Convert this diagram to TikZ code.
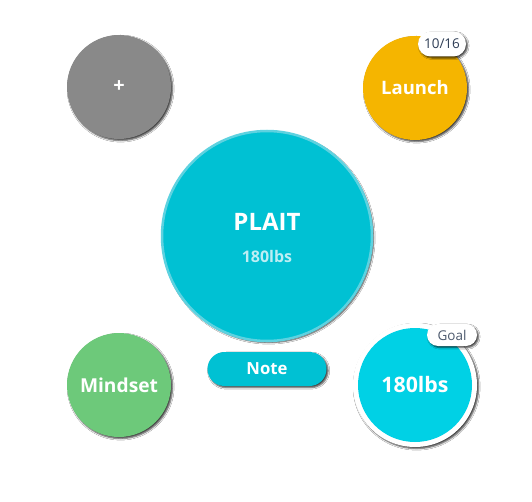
\documentclass[tikz,border=0pt]{standalone}
\usepackage{fontspec}
\setmainfont{Open Sans}
\usetikzlibrary{shadows.blur,shapes.misc}
\definecolor{grayc}{HTML}{898989}
\definecolor{launchc}{HTML}{F5B500}
\definecolor{mainc}{HTML}{00C1D3}
\definecolor{mainring}{HTML}{5ED2E0}
\definecolor{mindc}{HTML}{6DC97A}
\definecolor{goalc}{HTML}{00D1E5}
\definecolor{badgetxt}{HTML}{2E3D55}
\definecolor{subtxt}{HTML}{BDEEF4}
\tikzset{
  x=1pt,y=1pt,
  shad/.style={blur shadow={shadow xshift=1.6pt,shadow yshift=-1.6pt,shadow blur radius=1.6pt,shadow opacity=75}},
  plainbubble/.style={circle,inner sep=0pt,text=white,font=\bfseries\fontsize{18.5}{20}\selectfont},
  bubble/.style={plainbubble,shad},
  badge/.style={rounded rectangle,fill=white,shad,inner sep=0pt,text=badgetxt,font=\fontsize{13.5}{15}\selectfont},
}
\begin{document}
\begin{tikzpicture}
\useasboundingbox[fill=white] (0,0) rectangle (532,501);
% gray plus
\node[bubble,fill=grayc,minimum size=104pt,font=\bfseries\fontsize{20}{22}\selectfont] (plus) at (119,414) {+};
% launch
\node[bubble,fill=launchc,minimum size=104pt] (launch) at (415,413) {Launch};
\node[badge,minimum width=48pt,minimum height=25pt] (b1) at (442,457) {10/16};
% central
\node[circle,inner sep=0pt,fill=mainc,draw=mainring,line width=2.5pt,minimum size=210pt,shad] (main) at (267,265) {};
\node[text=white,font=\bfseries\fontsize{24}{26}\selectfont] (plait) at (267,279) {PLAIT};
\node[text=subtxt,font=\bfseries\fontsize{16}{18}\selectfont] (sub) at (267,245) {180lbs};
% mindset
\node[bubble,fill=mindc,minimum size=104pt,font=\bfseries\fontsize{19.2}{21}\selectfont] (mind) at (119,116) {Mindset};
% note
\node[rounded rectangle,fill=mainc,shad,minimum width=119pt,minimum height=34pt,inner sep=0pt,text=white,font=\bfseries\fontsize{16.7}{18}\selectfont] (note) at (267,132) {Note};
% goal
\node[circle,fill=white,minimum size=124pt,inner sep=0pt,shad] (goalring) at (415,116) {};
\node[plainbubble,fill=goalc,minimum size=114pt,font=\bfseries\fontsize{21.3}{23}\selectfont] (goal) at (415,116) {180lbs};
\node[badge,minimum width=50pt,minimum height=22pt,text=badgetxt!85!white] (b2) at (452,166) {Goal};
\end{tikzpicture}
\end{document}
